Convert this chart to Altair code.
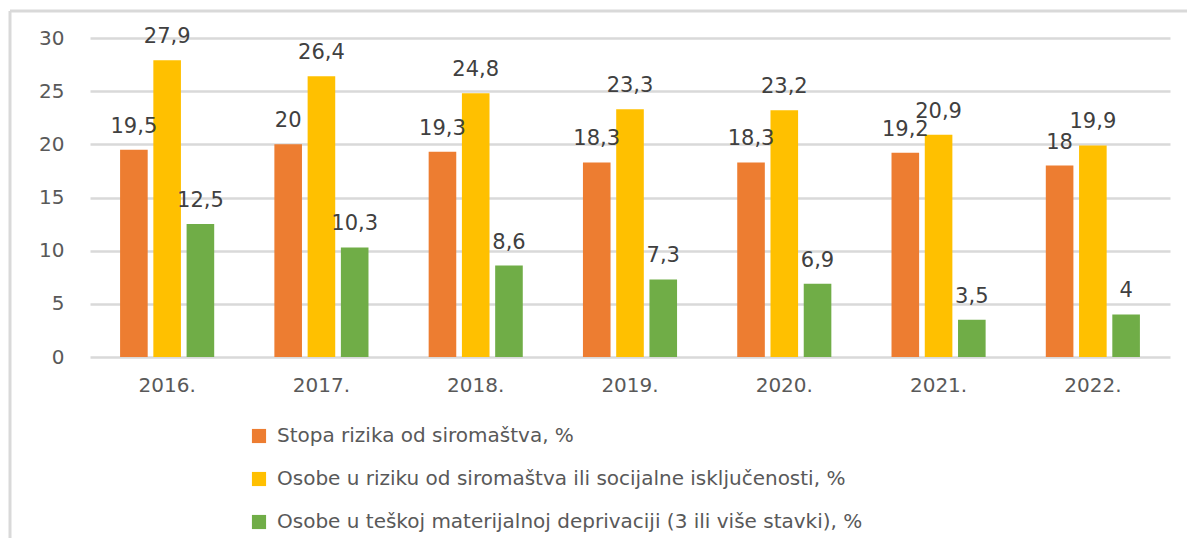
import altair as alt
import pandas as pd

years = ["2016.", "2017.", "2018.", "2019.", "2020.", "2021.", "2022."]
series = [
    "Stopa rizika od siromaštva, %",
    "Osobe u riziku od siromaštva ili socijalne isključenosti, %",
    "Osobe u teškoj materijalnoj deprivaciji (3 ili više stavki), %",
]
stopa = [19.5, 20, 19.3, 18.3, 18.3, 19.2, 18]
osobe_rizik = [27.9, 26.4, 24.8, 23.3, 23.2, 20.9, 19.9]
osobe_depr = [12.5, 10.3, 8.6, 7.3, 6.9, 3.5, 4]
colors = ["#ED7D31", "#FFC000", "#70AD47"]

rows = []
for s_i, (name, vals) in enumerate(zip(series, [stopa, osobe_rizik, osobe_depr])):
    for y, v in zip(years, vals):
        rows.append({"year": y, "series": name, "order": s_i, "value": v,
                     "label": f"{v:g}".replace(".", ",")})
df = pd.DataFrame(rows)

FONT = "DejaVu Sans"
W, H = 1080, 319

base = alt.Chart(df).encode(
    x=alt.X("year:N", sort=years, title=None,
            scale=alt.Scale(paddingInner=0.39, paddingOuter=0.195),
            axis=alt.Axis(labelAngle=0, labelFontSize=20, labelColor="#595959",
                          labelFont=FONT, ticks=False, domain=False, grid=False,
                          labelPadding=18)),
    xOffset=alt.XOffset("series:N", sort=series, scale=alt.Scale(paddingInner=0.17)),
)

bars = base.mark_bar().encode(
    y=alt.Y("value:Q", title=None,
            scale=alt.Scale(domain=[0, 30]),
            axis=alt.Axis(values=[0, 5, 10, 15, 20, 25, 30], labelFontSize=20,
                          labelColor="#595959", labelFont=FONT, ticks=False, domain=False,
                          grid=True, labelPadding=26, gridColor="#D9D9D9", gridWidth=2.5)),
    color=alt.Color("series:N", sort=series,
                    scale=alt.Scale(domain=series, range=colors),
                    legend=alt.Legend(title=None, orient="none", legendX=159, legendY=388,
                                      direction="vertical", symbolType="square",
                                      symbolSize=200, symbolStrokeWidth=0,
                                      labelFontSize=20, labelFont=FONT, labelOffset=8,
                                      labelColor="#595959", rowPadding=23,
                                      labelLimit=1000, symbolOffset=0)),
)

labels = base.mark_text(baseline="alphabetic", dy=-17, fontSize=21, font=FONT,
                        color="#404040").encode(
    y=alt.Y("value:Q"),
    text="label:N",
)

frame_data = alt.Data(values=[{"a": 1}])
top_line = alt.Chart(frame_data).mark_rule(color="#D9D9D9", strokeWidth=3).encode(
    x=alt.value(-80), x2=alt.value(1120), y=alt.value(-27))
left_line = alt.Chart(frame_data).mark_rule(color="#D9D9D9", strokeWidth=3).encode(
    x=alt.value(-80), y=alt.value(-27), y2=alt.value(530))

chart = alt.layer(bars, labels, top_line, left_line).properties(
    width=W, height=H,
    autosize=alt.AutoSizeParams(type="none"),
    padding={"left": 82, "top": 30, "right": 17, "bottom": 181},
).configure_view(stroke=None)

chart.save("out.html", embed_options={"renderer": "svg", "actions": False})
